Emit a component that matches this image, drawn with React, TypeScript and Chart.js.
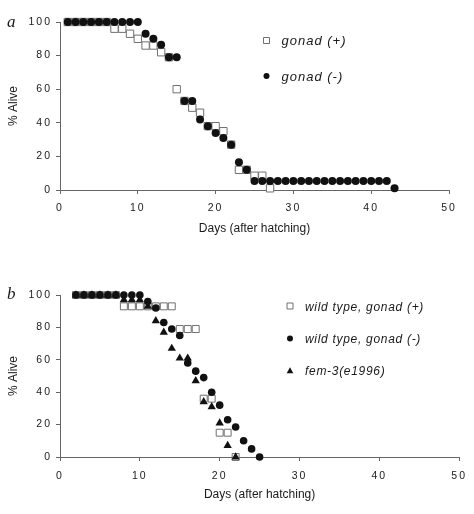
import React, { useEffect, useRef } from 'react';
import { Chart, registerables } from 'chart.js';

Chart.register(...registerables);

// ---------- Panel a data ----------
const seriesNamesA = ['gonad (+)', 'gonad (-)'];
const daysAPlus = [1, 2, 3, 4, 5, 6, 7, 8, 9, 10, 11, 12, 13, 14, 15, 16, 17, 18, 19, 20, 21, 22, 23, 24, 25, 26, 27];
const aliveAPlus = [100, 100, 100, 100, 100, 100, 96, 96, 93, 90, 86, 86, 82, 79, 60, 53, 49, 46, 38, 38, 35, 27, 12, 12, 8.5, 8.5, 1];
const daysAMinus = [1, 2, 3, 4, 5, 6, 7, 8, 9, 10, 11, 12, 13, 14, 15, 16, 17, 18, 19, 20, 21, 22, 23, 24, 25, 26, 27, 28, 29, 30, 31, 32, 33, 34, 35, 36, 37, 38, 39, 40, 41, 42, 43];
const aliveAMinus = [100, 100, 100, 100, 100, 100, 100, 100, 100, 100, 93, 90, 86.5, 79, 79, 53, 53, 42, 38, 34, 31, 27, 16.5, 12, 5.4, 5.4, 5.4, 5.4, 5.4, 5.4, 5.4, 5.4, 5.4, 5.4, 5.4, 5.4, 5.4, 5.4, 5.4, 5.4, 5.4, 5.4, 1];

// ---------- Panel b data ----------
const seriesNamesB = ['wild type, gonad (+)', 'wild type, gonad (-)', 'fem-3(e1996)'];
const daysBPlus = [2, 3, 4, 5, 6, 7, 8, 9, 10, 11, 12, 13, 14, 15, 16, 17, 18, 19, 20, 21, 22];
const aliveBPlus = [100, 100, 100, 100, 100, 100, 93, 93, 93, 93, 93, 93, 93, 79, 79, 79, 36, 36, 15, 15, 0];
const daysBMinus = [2, 3, 4, 5, 6, 7, 8, 9, 10, 11, 12, 13, 14, 15, 16, 17, 18, 19, 20, 21, 22, 23, 24, 25];
const aliveBMinus = [100, 100, 100, 100, 100, 100, 100, 100, 100, 96, 92, 83, 79, 75, 58, 53, 49, 40, 32, 23, 18.5, 10, 5, 0];
const daysBFem = [2, 3, 4, 5, 6, 7, 8, 9, 10, 11, 12, 13, 14, 15, 16, 17, 18, 19, 20, 21, 22];
const aliveBFem = [100, 100, 100, 100, 100, 100, 97, 97, 97, 93, 84, 77, 67, 61, 61, 47, 34, 31, 21, 7, 0];

// ---------- Axes ----------
const xMin = 0;
const xMax = 50;
const xStep = 10;
const yMin = 0;
const yMax = 100;
const yStep = 20;
const xTitle = 'Days (after hatching)';
const yTitle = '% Alive';
const panelLetters = ['a', 'b'];

const SANS = '"Liberation Sans", Arial, Helvetica, sans-serif';
const SERIF = '"Liberation Serif", "Times New Roman", serif';
const INK = '#1a1a1a';
const AXIS = '#666';

const zip = (xs: number[], ys: number[]) => xs.map((x, i) => ({ x, y: ys[i] }));

function spaced(spacing: string) {
  return (scale: any) => {
    if (scale.__spaced) return;
    const orig = scale.drawLabels;
    scale.drawLabels = function (ca: any) {
      const c = this.ctx;
      const prev = c.letterSpacing;
      c.letterSpacing = spacing;
      orig.call(this, ca);
      c.letterSpacing = prev;
    };
    scale.__spaced = true;
  };
}

type Shape = 'square' | 'circle' | 'triangle';

function drawMarker(ctx: CanvasRenderingContext2D, shape: Shape, x: number, y: number, s: number) {
  ctx.save();
  ctx.beginPath();
  if (shape === 'square') {
    ctx.rect(x - s / 2, y - s / 2, s, s);
    ctx.fillStyle = '#fff';
    ctx.fill();
    ctx.strokeStyle = '#707070';
    ctx.lineWidth = 1;
    ctx.stroke();
  } else if (shape === 'circle') {
    ctx.arc(x, y, s / 2, 0, Math.PI * 2);
    ctx.fillStyle = '#111';
    ctx.fill();
  } else {
    ctx.moveTo(x, y - s * 0.55);
    ctx.lineTo(x + s * 0.55, y + s * 0.45);
    ctx.lineTo(x - s * 0.55, y + s * 0.45);
    ctx.closePath();
    ctx.fillStyle = '#111';
    ctx.fill();
  }
  ctx.restore();
}

type LegendItem = { shape: Shape; label: string; dx: number; dy: number };

function overlayPlugin(letter: string, letterDy: number, items: LegendItem[], fontSize: number, spacing: string) {
  return {
    id: 'overlay',
    afterDraw(chart: any) {
      const ctx: CanvasRenderingContext2D = chart.ctx;
      const ca = chart.chartArea;
      ctx.save();
      ctx.fillStyle = INK;
      ctx.textAlign = 'left';
      ctx.textBaseline = 'alphabetic';
      ctx.font = `italic 17px ${SERIF}`;
      ctx.fillText(letter, 7, ca.top + letterDy);
      for (const it of items) {
        const mx = ca.left + it.dx;
        const my = ca.top + it.dy;
        drawMarker(ctx, it.shape, mx, my - 2.5, 6);
        ctx.fillStyle = INK;
        ctx.font = `italic ${fontSize}px ${SANS}`;
        (ctx as any).letterSpacing = spacing;
        ctx.fillText(it.label, mx + 15, my + 2);
        (ctx as any).letterSpacing = '0px';
      }
      ctx.restore();
    },
  };
}

function squareSet(label: string, data: any[], r: number) {
  return {
    label, data, order: 3, clip: false,
    pointStyle: 'rect', pointRadius: r, pointHoverRadius: r,
    backgroundColor: '#fff', borderColor: '#707070', borderWidth: 1, showLine: false,
  };
}
function circleSet(label: string, data: any[], r: number) {
  return {
    label, data, order: 1, clip: false,
    pointStyle: 'circle', pointRadius: r, pointHoverRadius: r,
    backgroundColor: '#111', borderColor: '#111', borderWidth: 0, showLine: false,
  };
}
function triangleSet(label: string, data: any[], r: number) {
  return {
    label, data, order: 2, clip: false,
    pointStyle: 'triangle', pointRadius: r, pointHoverRadius: r,
    backgroundColor: '#111', borderColor: '#111', borderWidth: 0, showLine: false,
  };
}

function makeOptions(p: { padTop: number; padRight: number; xHeight: number; xLabelPad: number; xTitlePad: number }) {
  return {
    responsive: false,
    animation: false as const,
    events: [] as any[],
    layout: { padding: { top: p.padTop, right: p.padRight, left: 0, bottom: 0 } },
    plugins: { legend: { display: false }, tooltip: { enabled: false } },
    scales: {
      x: {
        type: 'linear' as const,
        min: xMin,
        max: xMax,
        ticks: { stepSize: xStep, font: { family: SANS, size: 10.5 }, color: INK, padding: p.xLabelPad, maxRotation: 0, autoSkip: false },
        grid: { drawOnChartArea: false, drawTicks: true, tickLength: 4, color: AXIS, lineWidth: 1 },
        border: { display: true, color: AXIS, width: 1 },
        title: { display: true, text: xTitle, font: { family: SANS, size: 12 }, color: INK, padding: { top: 0, bottom: p.xTitlePad } },
        afterFit: (s: any) => { s.height = p.xHeight; },
        afterUpdate: spaced('2px'),
      },
      y: {
        type: 'linear' as const,
        min: yMin,
        max: yMax,
        ticks: { stepSize: yStep, font: { family: SANS, size: 10.5 }, color: INK, padding: 4 },
        grid: { drawOnChartArea: false, drawTicks: true, tickLength: 4, color: AXIS, lineWidth: 1 },
        border: { display: true, color: AXIS, width: 1 },
        title: { display: true, text: yTitle, font: { family: SANS, size: 12 }, color: INK, padding: { top: 6, bottom: 0 } },
        afterFit: (s: any) => { s.width = 60; },
        afterUpdate: spaced('2px'),
      },
    },
  };
}

export default function App() {
  const refA = useRef<HTMLCanvasElement>(null);
  const refB = useRef<HTMLCanvasElement>(null);

  useEffect(() => {
    const chartA = new Chart(refA.current as HTMLCanvasElement, {
      type: 'scatter',
      data: {
        datasets: [
          squareSet(seriesNamesA[0], zip(daysAPlus, aliveAPlus), 5.2),
          circleSet(seriesNamesA[1], zip(daysAMinus, aliveAMinus), 4),
        ] as any,
      },
      options: makeOptions({ padTop: 22, padRight: 25, xHeight: 67, xLabelPad: 8, xTitlePad: 20.8 }) as any,
      plugins: [
        overlayPlugin(panelLetters[0], 5, [
          { shape: 'square', label: seriesNamesA[0], dx: 206.5, dy: 21 },
          { shape: 'circle', label: seriesNamesA[1], dx: 206.5, dy: 56.5 },
        ], 13, '1px'),
      ],
    });

    const chartB = new Chart(refB.current as HTMLCanvasElement, {
      type: 'scatter',
      data: {
        datasets: [
          squareSet(seriesNamesB[0], zip(daysBPlus, aliveBPlus), 4.9),
          circleSet(seriesNamesB[1], zip(daysBMinus, aliveBMinus), 3.8),
          triangleSet(seriesNamesB[2], zip(daysBFem, aliveBFem), 4.8),
        ] as any,
      },
      options: makeOptions({ padTop: 38, padRight: 14, xHeight: 57, xLabelPad: 9, xTitlePad: 11.8 }) as any,
      plugins: [
        overlayPlugin(panelLetters[1], 4.3, [
          { shape: 'square', label: seriesNamesB[0], dx: 230, dy: 13.5 },
          { shape: 'circle', label: seriesNamesB[1], dx: 230, dy: 46 },
          { shape: 'triangle', label: seriesNamesB[2], dx: 230, dy: 78 },
        ], 12, '0.7px'),
      ],
    });

    return () => {
      chartA.destroy();
      chartB.destroy();
    };
  }, []);

  return (
    <div style={{ position: 'absolute', left: 0, top: 0, width: 474, height: 514, background: '#fff' }}>
      <canvas ref={refA} width={474} height={257} style={{ position: 'absolute', left: 0, top: 0, width: 474, height: 257 }} />
      <canvas ref={refB} width={474} height={257} style={{ position: 'absolute', left: 0, top: 257, width: 474, height: 257 }} />
    </div>
  );
}
